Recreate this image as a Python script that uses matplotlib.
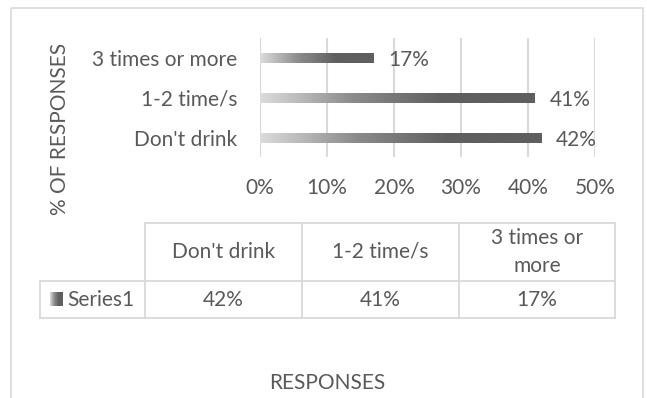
import numpy as np
import matplotlib.pyplot as plt
from matplotlib.colors import LinearSegmentedColormap

plt.rcParams['font.family'] = ['Lato', 'DejaVu Sans']

# Survey responses
categories = ["Don't drink", "1-2 time/s", "3 times or more"]
values = [0.42, 0.41, 0.17]
series_name = "Series1"
table_headers = ["Don't drink", "1-2 time/s", "3 times or\nmore"]
x_ticks = [0, 0.1, 0.2, 0.3, 0.4, 0.5]

TEXT = '#595959'
GRID = '#d9d9d9'
FS = 15

W, H = 647, 398
fig = plt.figure(figsize=(W / 100, H / 100), dpi=100)

# pixel-space overlay for frame, table and titles
ov = fig.add_axes([0, 0, 1, 1])
ov.axis('off')
ov.plot([11, 11, 643, 643], [H + 5, 8, 8, H + 5], color=GRID, lw=1.2)

# bar chart area
ax = fig.add_axes([260 / W, 1 - 157 / H, 335 / W, 119 / H])
for s in ax.spines.values():
    s.set_visible(False)
ax.set_xticks(x_ticks)
ax.set_xticklabels([f'{t:.0%}' for t in x_ticks], color=TEXT, fontsize=FS)
ax.tick_params(axis='x', length=0, pad=15)
ax.set_yticks(range(len(categories)))
ax.set_yticklabels(categories, color=TEXT, fontsize=FS)
ax.tick_params(axis='y', length=0, pad=16.5)
ax.grid(axis='x', color=GRID, lw=1.5)
ax.set_axisbelow(True)

grad = LinearSegmentedColormap.from_list('g', ['#dcdcdc', '#8c8c8c', '#5f5f5f', '#5f5f5f'])
ramp = np.linspace(0, 1, 256).reshape(1, -1)
bars = ax.barh(range(len(categories)), values, height=0.25, color='none')
for b, v in zip(bars, values):
    x0, y0 = b.get_x(), b.get_y()
    ax.imshow(ramp, cmap=grad, aspect='auto', interpolation='bicubic',
              extent=[x0, x0 + b.get_width(), y0, y0 + b.get_height()], zorder=2)
    ax.text(v + 0.022, b.get_y() + b.get_height() / 2 - 0.05, f'{v:.0%}',
            color=TEXT, fontsize=FS, va='center', ha='left')
ax.set_xlim(0, 0.5)
ax.set_ylim(-0.475, 2.5)

ov.text(60, 129, '% OF RESPONSES', rotation=90, ha='center', va='center',
        color=TEXT, fontsize=FS)

# data table under the chart
cols = [145, 302, 459, 615]
label_left = 40
top, mid, bot = 223, 281, 318
lw = 1.3
for x in cols:
    ov.plot([x, x], [top, bot], color=GRID, lw=lw)
ov.plot([label_left, label_left], [mid, bot], color=GRID, lw=lw)
ov.plot([cols[0], cols[-1]], [top, top], color=GRID, lw=lw)
ov.plot([label_left, cols[-1]], [mid, mid], color=GRID, lw=lw)
ov.plot([label_left, cols[-1]], [bot, bot], color=GRID, lw=lw)
for i, (hdr, v) in enumerate(zip(table_headers, values)):
    cx = (cols[i] + cols[i + 1]) / 2
    ov.text(cx, (top + mid) / 2, hdr, ha='center', va='center', color=TEXT,
            fontsize=FS, linespacing=1.45)
    ov.text(cx, (mid + bot) / 2, f'{v:.0%}', ha='center', va='center',
            color=TEXT, fontsize=FS)
ov.imshow(ramp, cmap=grad, aspect='auto', extent=[50, 63, 306, 292], zorder=2)
ov.text(67, (mid + bot) / 2, series_name, ha='left', va='center', color=TEXT,
        fontsize=FS)

ov.text(327, 383, 'RESPONSES', ha='center', va='center', color=TEXT, fontsize=FS)
ov.set_xlim(0, W)
ov.set_ylim(H, 0)

fig.savefig('out.png', dpi=100, facecolor='white')
